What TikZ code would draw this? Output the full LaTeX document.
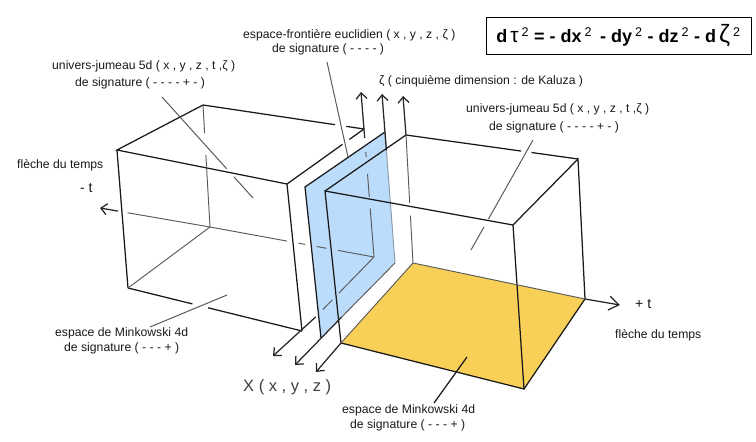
\documentclass[tikz,border=0pt]{standalone}
\usepackage{fontspec}
\setmainfont{Liberation Sans}
\usetikzlibrary{arrows.meta, calc}
\definecolor{planecolor}{RGB}{188,220,251}
\definecolor{floorcolor}{RGB}{249,208,87}
\definecolor{backcolor}{RGB}{90,90,90}

\begin{document}
\begin{tikzpicture}[
    x=1pt, y=-1pt,
    edge/.style={line width=1.25pt, black!90},
    back/.style={line width=0.95pt, backcolor},
    leader/.style={line width=1pt, backcolor},
    arrow/.style={-{Straight Barb[length=6pt, width=11pt]}, line width=1.25pt, black!85},
    label/.style={font=\fontsize{12.2}{14}\selectfont, align=center, inner sep=0pt, black!90}
  ]
    \useasboundingbox (0,0) rectangle (756,442);

    %% Left box corners
    \coordinate (la) at (117,150);
    \coordinate (lb) at (287,184);
    \coordinate (lc) at (203,105);
    \coordinate (ld) at (364,129);
    \coordinate (le) at (128,288);
    \coordinate (lf) at (302,331);
    \coordinate (lg) at (210,227);
    \coordinate (lh) at (374,257);

    %% Blue plane corners
    \coordinate (pa) at (305,187);
    \coordinate (pb) at (385,132);
    \coordinate (pc) at (395,263);
    \coordinate (pd) at (321,338);

    %% Right box corners
    \coordinate (ra) at (325,191);
    \coordinate (rb) at (513,225);
    \coordinate (rc) at (406,135);
    \coordinate (rd) at (578,159);
    \coordinate (re) at (341,343);
    \coordinate (rf) at (524,389);
    \coordinate (rg) at (413,263);
    \coordinate (rh) at (585,299);

    %% Axis ends
    \coordinate (zeta1) at (361,92);
    \coordinate (zeta2) at (382,94);
    \coordinate (zeta3) at (403,96);
    \coordinate (x1) at (273,356);
    \coordinate (x2) at (295,365);
    \coordinate (x3) at (316,372);
    \coordinate (tplus) at (620,305);
    \coordinate (tminus) at (100,208);

    %% Coloured faces
    \fill[planecolor] (pa) -- (pb) -- (pc) -- (pd) -- cycle;
    \fill[floorcolor] (re) -- (rg) -- (rh) -- (rf) -- cycle;

    %% Left box
    \draw[edge] (lc) -- (la) -- (lb);
    \draw[edge] (la) -- (le);
    \draw[edge] (lb) -- (lf);
    \draw[edge] (lc) -- ($(lc)!0.82!(ld)$);
    \draw[edge] ($(lc)!0.89!(ld)$) -- (ld);
    \draw[edge] (lb) -- ($(lb)!0.72!(ld)$);
    \draw[edge] ($(lb)!0.81!(ld)$) -- (ld);
    \draw[edge] (le) -- ($(le)!0.37!(lf)$);
    \draw[edge] ($(le)!0.46!(lf)$) -- (lf);
    \draw[back] (lg) -- (le);
    \draw[back] (lc) -- ($(lc)!0.23!(lg)$);
    \draw[back] ($(lc)!0.41!(lg)$) -- (lg);

    %% Hidden lines of the left box
    \draw[back] ($(ld)!0.18!(lh)$) -- ($(ld)!0.22!(lh)$);
    \draw[back] ($(ld)!0.35!(lh)$) -- ($(ld)!0.53!(lh)$);
    \draw[back] ($(ld)!0.62!(lh)$) -- (lh);
    \draw[back] (lg) -- ($(lg)!0.47!(lh)$);
    \draw[back] ($(lg)!0.54!(lh)$) -- ($(lg)!0.58!(lh)$);
    \draw[back] ($(lg)!0.65!(lh)$) -- ($(lg)!0.71!(lh)$);
    \draw[back] ($(lg)!0.78!(lh)$) -- (lh);
    \draw[back] (lh) -- ($(lh)!0.49!(lf)$);
    \draw[back] ($(lh)!0.58!(lf)$) -- ($(lh)!0.71!(lf)$);

    %% Blue plane edges
    \draw[edge] (pd) -- (pa) -- (pb);
    \draw[back, planecolor!50!backcolor] (pb) -- (pc);
    \draw[back] (pc) -- ($(pc)!0.72!(pd)$);

    %% Right box
    \draw[edge] (re) -- (ra) -- (rb) -- (rf) -- (re);
    \draw[edge] (ra) -- (rc);
    \draw[edge] (rb) -- (rd) -- (rh) -- (rf);
    \draw[edge] (rc) -- ($(rc)!0.67!(rd)$);
    \draw[edge] ($(rc)!0.73!(rd)$) -- (rd);
    \draw[back] (rc) -- ($(rc)!0.53!(rg)$);
    \draw[back] ($(rc)!0.63!(rg)$) -- (rg);
    \draw[back] (rg) -- (rh);
    \draw[back] (rg) -- (re);

    %% Axes
    \draw[arrow] ($(ld)!0.07!(lh)$) -- (zeta1);
    \draw[arrow] ($(pb)!0.14!(pc)$) -- (zeta2);
    \draw[arrow] (rc) -- (zeta3);
    \draw[arrow] ($(lh)!0.81!(lf)$) -- (x1);
    \draw[arrow] ($(pc)!0.72!(pd)$) -- (x2);
    \draw[arrow] (re) -- (x3);
    \draw[arrow, -{Straight Barb[length=10pt, width=14pt]}] (rh) -- (tplus);
    \draw[arrow] ($(lg)!0.836!(tminus)$) -- (tminus);
    \draw[back] (lg) -- ($(lg)!0.75!(tminus)$);

    %% Labels
    \node[label, anchor=west] (frontiere1) at (243,35) {espace-frontière euclidien ( x , y , z , ζ  )};
    \node[label, anchor=west] (frontiere2) at (272,49) {de signature ( - - - - )};
    \node[label, anchor=west] (jumeauL1) at (52,66) {univers-jumeau 5d ( x , y , z , t ,ζ  )};
    \node[label, anchor=west] (jumeauL2) at (75,83) {de signature ( - - - - + - )};
    \node[label, anchor=west] (fleche1) at (17,165) {flèche du temps};
    \node[label, anchor=west, font=\fontsize{14}{16}\selectfont] (moinst) at (80,188) {- t};
    \node[label, anchor=west] (kaluza) at (379,81) {ζ ( cinquième dimension : de Kaluza )};
    \node[label, anchor=west] (jumeauR1) at (466,109) {univers-jumeau 5d ( x , y , z , t ,ζ  )};
    \node[label, anchor=west] (jumeauR2) at (489,127) {de signature ( - - - - + - )};
    \node[label, anchor=west] (minkL1) at (55,333) {espace de Minkowski 4d};
    \node[label, anchor=west] (minkL2) at (64,348) {de  signature ( - - - + )};
    \node[label, anchor=west] (minkR1) at (342,410) {espace de Minkowski 4d};
    \node[label, anchor=west] (minkR2) at (350,425) {de  signature ( - - - + )};
    \node[label, anchor=west, font=\fontsize{14}{16}\selectfont] (plust) at (635,304) {+ t};
    \node[label, anchor=west] (fleche2) at (615,335) {flèche du temps};
    \node[label, anchor=west, font=\fontsize{16.5}{18}\selectfont, black!75] (xyz) at (243,387) {X ( x , y , z )};

    %% Metric
    \node[draw, line width=1pt, minimum width=265pt, minimum height=37pt, inner sep=0pt,
          font=\fontsize{18}{20}\selectfont\bfseries] (metric) at (618.5,35.5)
      {d\,{\mdseries\fontsize{21}{21}\selectfont τ}\,\textsuperscript{\mdseries 2} = - dx\,\textsuperscript{\mdseries 2} \,- dy\,\textsuperscript{\mdseries 2} - dz\,\textsuperscript{\mdseries 2} - d\,{\mdseries\fontsize{25}{25}\selectfont ζ}\,\textsuperscript{\mdseries 2}};

    %% Leaders
    \coordinate (f1) at (327,62);
    \coordinate (f2) at (348,157);
    \coordinate (u1) at (162,97);
    \coordinate (u2) at (253,198);
    \coordinate (v1) at (533,140);
    \coordinate (v2) at (471,250);
    \coordinate (m1) at (150,327);
    \coordinate (m2) at (227,295);
    \coordinate (n1) at (434,403);
    \coordinate (n2) at (467,357);
    \draw[leader] (f1) -- (f2);
    \draw[leader] (u1) -- ($(u1)!0.71!(u2)$);
    \draw[leader] ($(u1)!0.79!(u2)$) -- (u2);
    \draw[leader] (v1) -- ($(v1)!0.72!(v2)$);
    \draw[leader] ($(v1)!0.79!(v2)$) -- (v2);
    \draw[leader] (m1) -- (m2);
    \draw[edge] (n1) -- (n2);
  \end{tikzpicture}
\end{document}
